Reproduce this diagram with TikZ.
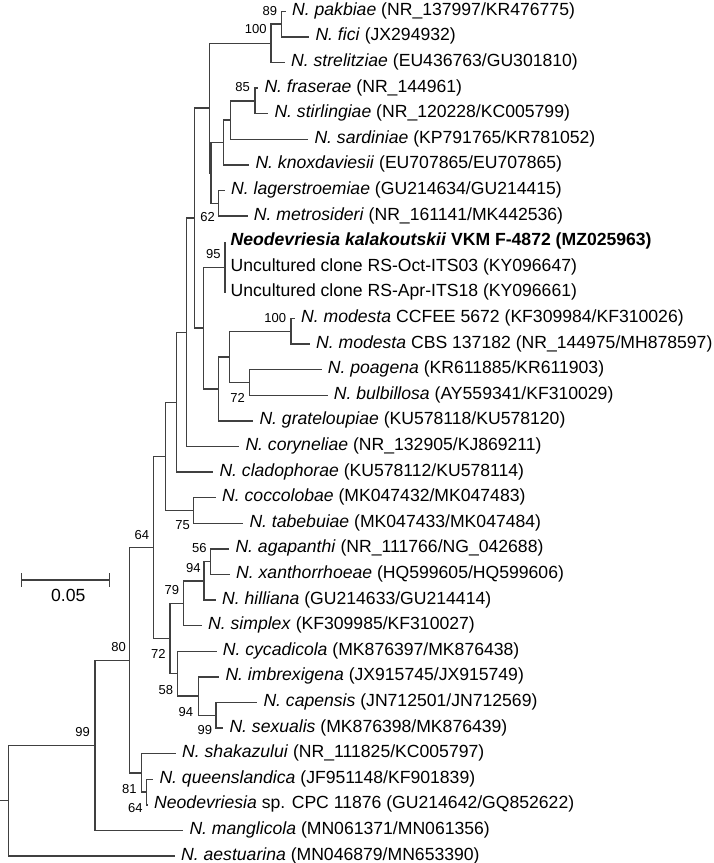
\documentclass[tikz,border=0pt]{standalone}
\usepackage{fontspec}
\setmainfont{Liberation Sans}
\newcommand\tipfont{\fontsize{17.6}{20}\selectfont}
\newcommand\bsfont{\fontsize{13}{15}\selectfont}
\tikzset{
  br/.style={draw=black!75, line width=1.4pt},
  tip/.style={anchor=west, inner sep=0pt, font=\tipfont, xshift=6pt, yshift=0.5pt},
  bs/.style={anchor=east, inner sep=0pt, font=\bsfont}
}
\begin{document}
\begin{tikzpicture}[x=1pt,y=-1pt]
\useasboundingbox (0,0) rectangle (714,863);
% internal nodes
\coordinate (r0) at (0,800.7);
\coordinate (root) at (8.3,800.7);
\coordinate (n99) at (95,745.3);
\coordinate (n80) at (129.3,660.2);
\coordinate (n64) at (153.3,547.4);
\coordinate (n165) at (165.7,456.3);
\coordinate (n176) at (176.7,402.2);
\coordinate (n186) at (186.7,332.2);
\coordinate (n194) at (194.3,217.9);
\coordinate (nABC) at (209.3,108.1);
\coordinate (n100a) at (271,43.3);
\coordinate (n89) at (281.7,24.1);
\coordinate (nBC) at (211,172.9);
\coordinate (nB) at (223.3,142.5);
\coordinate (nFS) at (230.7,120.1);
\coordinate (n85) at (255,100.9);
\coordinate (n62) at (218.3,203.3);
\coordinate (n203) at (203.3,328.1);
\coordinate (n95) at (225,267.3);
\coordinate (n218) at (218.3,388.9);
\coordinate (n229) at (229.3,356.9);
\coordinate (n100b) at (291,331.3);
\coordinate (n72a) at (249.3,382.5);
\coordinate (n75) at (193.3,510.5);
\coordinate (n72b) at (170,638.5);
\coordinate (n79) at (183.3,603.3);
\coordinate (n94a) at (204,580.9);
\coordinate (n56) at (210.7,561.7);
\coordinate (n58) at (177.3,673.7);
\coordinate (n94b) at (198.3,696.1);
\coordinate (n99b) at (216,715.3);
\coordinate (n81) at (141.7,772.9);
\coordinate (n64b) at (146.7,792.1);
% tips
\coordinate (t1) at (286,11.3);
\coordinate (t2) at (309.3,36.9);
\coordinate (t3) at (285,62.5);
\coordinate (t4) at (258.3,88.1);
\coordinate (t5) at (268.3,113.7);
\coordinate (t6) at (308.3,139.3);
\coordinate (t7) at (249.3,164.9);
\coordinate (t8) at (225,190.5);
\coordinate (t9) at (247.7,216.1);
\coordinate (t10) at (225,241.7);
\coordinate (t11) at (225,267.3);
\coordinate (t12) at (225,292.9);
\coordinate (t13) at (295,318.5);
\coordinate (t14) at (310,344.1);
\coordinate (t15) at (321.7,369.7);
\coordinate (t16) at (327.7,395.3);
\coordinate (t17) at (253.3,420.9);
\coordinate (t18) at (239.3,446.5);
\coordinate (t19) at (213.3,472.1);
\coordinate (t20) at (216,497.7);
\coordinate (t21) at (243.3,523.3);
\coordinate (t22) at (229.3,548.9);
\coordinate (t23) at (230,574.5);
\coordinate (t24) at (216,600.1);
\coordinate (t25) at (202,625.7);
\coordinate (t26) at (216.7,651.3);
\coordinate (t27) at (219.3,676.9);
\coordinate (t28) at (257.3,702.5);
\coordinate (t29) at (223.3,728.1);
\coordinate (t30) at (176,753.7);
\coordinate (t31) at (153.3,779.3);
\coordinate (t32) at (148,804.9);
\coordinate (t33) at (183.3,830.5);
\coordinate (t34) at (175,856.1);
% branches
\draw[br] (r0) -- (root);
\foreach \p/\c in {root/n99, root/t34, n99/n80, n99/t33, n80/n64, n80/n81,
  n81/t30, n81/n64b, n64b/t31, n64b/t32, n64/n165, n64/n72b, n165/n176, n165/n75,
  n75/t20, n75/t21, n176/n186, n176/t19, n186/n194, n186/t18, n194/nABC, n194/n203,
  nABC/n100a, nABC/nBC, n100a/n89, n100a/t3, n89/t1, n89/t2, nBC/nB, nBC/n62,
  nB/nFS, nB/t7, nFS/n85, nFS/t6, n85/t4, n85/t5, n62/t8, n62/t9,
  n203/n95, n203/n218, n95/t10, n95/t11, n95/t12, n218/n229, n218/t17,
  n229/n100b, n229/n72a, n100b/t13, n100b/t14, n72a/t15, n72a/t16,
  n72b/n79, n72b/n58, n79/n94a, n79/t25, n94a/n56, n94a/t24, n56/t22, n56/t23,
  n58/t26, n58/n94b, n94b/t27, n94b/n99b, n99b/t28, n99b/t29}
  \draw[br] (\p) |- (\c);
% tip labels
\node[tip] (L1) at (t1) {\textit{N. pakbiae} (NR\_137997/KR476775)};
\node[tip] (L2) at (t2) {\textit{N. fici} (JX294932)};
\node[tip] (L3) at (t3) {\textit{N. strelitziae} (EU436763/GU301810)};
\node[tip] (L4) at (t4) {\textit{N. fraserae} (NR\_144961)};
\node[tip] (L5) at (t5) {\textit{N. stirlingiae} (NR\_120228/KC005799)};
\node[tip] (L6) at (t6) {\textit{N. sardiniae} (KP791765/KR781052)};
\node[tip] (L7) at (t7) {\textit{N. knoxdaviesii} (EU707865/EU707865)};
\node[tip] (L8) at (t8) {\textit{N. lagerstroemiae} (GU214634/GU214415)};
\node[tip] (L9) at (t9) {\textit{N. metrosideri} (NR\_161141/MK442536)};
\node[tip, xshift=-0.5pt] (L10) at (t10) {\textbf{\textit{Neodevriesia kalakoutskii} VKM F-4872 (MZ025963)}};
\node[tip, xshift=-0.5pt] (L11) at (t11) {Uncultured clone RS-Oct-ITS03 (KY096647)};
\node[tip, xshift=-0.5pt] (L12) at (t12) {Uncultured clone RS-Apr-ITS18 (KY096661)};
\node[tip] (L13) at (t13) {\textit{N. modesta} CCFEE 5672 (KF309984/KF310026)};
\node[tip] (L14) at (t14) {\textit{N. modesta} CBS 137182 (NR\_144975/MH878597)};
\node[tip] (L15) at (t15) {\textit{N. poagena} (KR611885/KR611903)};
\node[tip] (L16) at (t16) {\textit{N. bulbillosa} (AY559341/KF310029)};
\node[tip] (L17) at (t17) {\textit{N. grateloupiae} (KU578118/KU578120)};
\node[tip] (L18) at (t18) {\textit{N. coryneliae} (NR\_132905/KJ869211)};
\node[tip] (L19) at (t19) {\textit{N. cladophorae} (KU578112/KU578114)};
\node[tip] (L20) at (t20) {\textit{N. coccolobae} (MK047432/MK047483)};
\node[tip] (L21) at (t21) {\textit{N. tabebuiae} (MK047433/MK047484)};
\node[tip] (L22) at (t22) {\textit{N. agapanthi} (NR\_111766/NG\_042688)};
\node[tip] (L23) at (t23) {\textit{N. xanthorrhoeae} (HQ599605/HQ599606)};
\node[tip] (L24) at (t24) {\textit{N. hilliana} (GU214633/GU214414)};
\node[tip] (L25) at (t25) {\textit{N. simplex} (KF309985/KF310027)};
\node[tip] (L26) at (t26) {\textit{N. cycadicola} (MK876397/MK876438)};
\node[tip] (L27) at (t27) {\textit{N. imbrexigena} (JX915745/JX915749)};
\node[tip] (L28) at (t28) {\textit{N. capensis} (JN712501/JN712569)};
\node[tip] (L29) at (t29) {\textit{N. sexualis} (MK876398/MK876439)};
\node[tip] (L30) at (t30) {\textit{N. shakazului} (NR\_111825/KC005797)};
\node[tip] (L31) at (t31) {\textit{N. queenslandica} (JF951148/KF901839)};
\node[tip] (L32) at (t32) {\textit{Neodevriesia} sp. CPC 11876 (GU214642/GQ852622)};
\node[tip] (L33) at (t33) {\textit{N. manglicola} (MN061371/MN061356)};
\node[tip] (L34) at (t34) {\textit{N. aestuarina} (MN046879/MN653390)};
% bootstrap values
\node[bs] (b89) at (277.3,10.7) {89};
\node[bs] (b100a) at (266.7,29.3) {100};
\node[bs] (b85) at (250,87.3) {85};
\node[bs] (b62) at (215,217.3) {62};
\node[bs] (b95) at (220.7,254) {95};
\node[bs] (b100b) at (286.3,317.8) {100};
\node[bs] (b72a) at (245,397.5) {72};
\node[bs] (b75) at (190,525) {75};
\node[bs] (b64) at (149.3,535) {64};
\node[bs] (b56) at (206.7,547.7) {56};
\node[bs] (b94a) at (200.7,567.7) {94};
\node[bs] (b79) at (179.3,590) {79};
\node[bs] (b80) at (126,646.7) {80};
\node[bs] (b72b) at (165.7,654) {72};
\node[bs] (b58) at (173.3,690) {58};
\node[bs] (b94b) at (193.3,711.7) {94};
\node[bs] (b99b) at (212.3,730) {99};
\node[bs] (b99) at (90,732.3) {99};
\node[bs] (b81) at (136.7,789) {81};
\node[bs] (b64b) at (142.7,808.3) {64};
% scale bar
\coordinate (sbL) at (21.7,580);
\coordinate (sbR) at (109.3,580);
\coordinate (sbLt) at (21.7,573.3);
\coordinate (sbLb) at (21.7,586.5);
\coordinate (sbRt) at (109.3,573.3);
\coordinate (sbRb) at (109.3,586.5);
\draw[br] (sbL) -- (sbR);
\draw[br] (sbLt) -- (sbLb);
\draw[br] (sbRt) -- (sbRb);
\node[inner sep=0pt, font=\tipfont] (sblabel) at (68.3,595) {0.05};
\end{tikzpicture}
\end{document}
